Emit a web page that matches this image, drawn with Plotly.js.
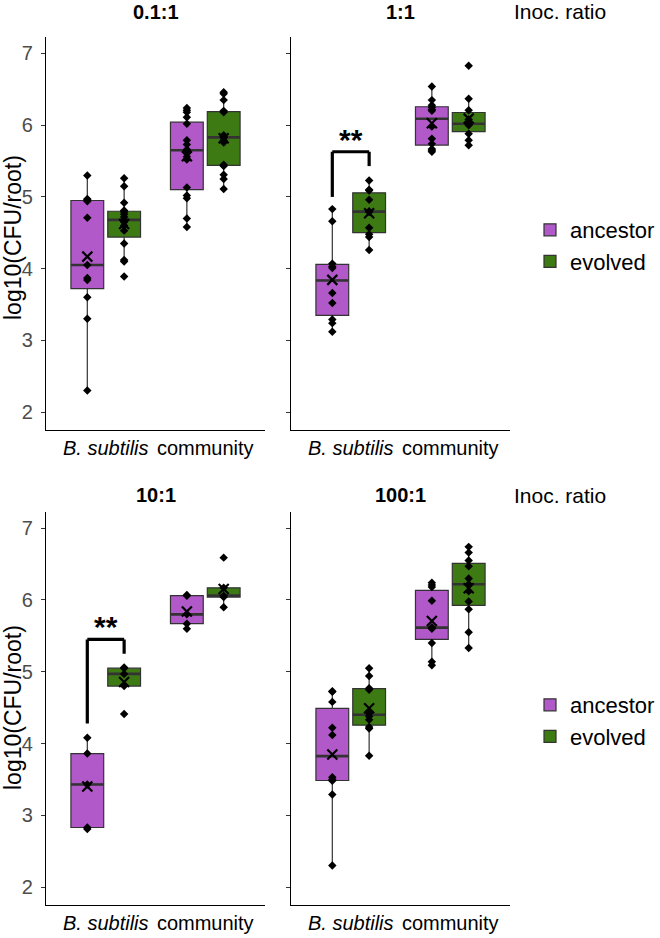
<!DOCTYPE html>
<html>
<head>
<meta charset="utf-8">
<script src="https://cdn.plot.ly/plotly-3.0.1.min.js"></script>
<style>
  html, body { margin: 0; padding: 0; background: #fff; }
  #plot { width: 660px; height: 938px; }
</style>
</head>
<body>
<div id="plot"></div>
<script>
const categories = ['B. subtilis', 'community'];
const tickLabels = ['<i>B. subtilis</i>', 'community'];
const ratios = ['0.1:1', '1:1', '10:1', '100:1'];
const groups = ['ancestor', 'evolved'];
const groupColors = ['#B159C8', '#3E7A14'];

// log10(CFU/root) per inoculation ratio, category and strain
const anc_bs_01 = [5.30, 4.97, 4.96, 4.94, 4.71, 4.05, 3.87, 3.84, 3.60, 3.30, 2.30];
const evo_bs_01 = [5.26, 5.15, 4.92, 4.81, 4.79, 4.76, 4.72, 4.68, 4.65, 4.60, 4.53, 4.35, 4.12, 4.10, 3.89];
const anc_cm_01 = [6.24, 6.21, 6.18, 6.11, 6.02, 5.79, 5.73, 5.66, 5.64, 5.56, 5.52, 5.13, 5.02, 4.98, 4.70, 4.58];
const evo_cm_01 = [6.46, 6.44, 6.35, 6.20, 6.18, 5.86, 5.84, 5.83, 5.79, 5.76, 5.45, 5.43, 5.31, 5.25, 5.11];

const anc_bs_1 = [4.83, 4.66, 4.07, 4.03, 4.01, 3.66, 3.52, 3.29, 3.24, 3.12];
const evo_bs_1 = [5.23, 5.10, 5.09, 4.96, 4.80, 4.79, 4.57, 4.48, 4.44, 4.26];
const anc_cm_1 = [6.54, 6.35, 6.28, 6.25, 6.22, 6.20, 5.98, 5.81, 5.74, 5.67, 5.65, 5.63];
const evo_cm_1 = [6.83, 6.37, 6.21, 6.08, 6.03, 6.01, 6.00, 5.88, 5.79, 5.72];

const anc_bs_10 = [4.08, 3.86, 3.43, 2.83, 2.81];
const evo_bs_10 = [5.06, 5.05, 4.97, 4.80, 4.41];
const anc_cm_10 = [6.07, 6.06, 5.80, 5.67, 5.60];
const evo_cm_10 = [6.59, 6.17, 6.06, 6.04, 5.90];

const anc_bs_100 = [4.73, 4.72, 4.58, 4.22, 4.12, 3.53, 3.50, 3.48, 3.29, 2.30];
const evo_bs_100 = [5.05, 4.94, 4.77, 4.75, 4.42, 4.38, 4.33, 4.23, 4.21, 3.83];
const anc_cm_100 = [6.24, 6.21, 6.18, 5.99, 5.62, 5.61, 5.60, 5.40, 5.14, 5.09];
const evo_cm_100 = [6.74, 6.66, 6.55, 6.47, 6.30, 6.22, 6.12, 5.98, 5.87, 5.55, 5.33];

// significance brackets (B. subtilis, ancestor vs evolved)
const sigPanels = [1, 2];
const sigLabels = ['**', '**'];
const sigTop = [5.63, 5.45];
const sigLeftEnd = [5.00, 4.28];
const sigRightEnd = [5.43, 5.25];

const panelData = [
    [[anc_bs_01, anc_cm_01], [evo_bs_01, evo_cm_01]],
    [[anc_bs_1, anc_cm_1], [evo_bs_1, evo_cm_1]],
    [[anc_bs_10, anc_cm_10], [evo_bs_10, evo_cm_10]],
    [[anc_bs_100, anc_cm_100], [evo_bs_100, evo_cm_100]]
];

const FONT = 'Liberation Sans, Arial, sans-serif';
const BOXGAP = 0.26;
const dodge = (1 - BOXGAP) / 4;

// ggplot-style (type 7) quantiles
function quantile(sorted, p) {
    const h = (sorted.length - 1) * p;
    const lo = Math.floor(h), hi = Math.ceil(h);
    return sorted[lo] + (h - lo) * (sorted[hi] - sorted[lo]);
}

function boxStats(vals) {
    const s = vals.slice().sort((a, b) => a - b);
    const q1 = quantile(s, 0.25), med = quantile(s, 0.5), q3 = quantile(s, 0.75);
    const iqr = q3 - q1;
    const lo = Math.min(...s.filter(v => v >= q1 - 1.5 * iqr));
    const hi = Math.max(...s.filter(v => v <= q3 + 1.5 * iqr));
    const mean = s.reduce((a, b) => a + b, 0) / s.length;
    return { q1, med, q3, lo, hi, mean };
}

const traces = [];
panelData.forEach((panel, p) => {
    const xa = p === 0 ? 'x' : 'x' + (p + 1);
    const ya = p === 0 ? 'y' : 'y' + (p + 1);
    const legendId = p < 2 ? 'legend' : 'legend2';
    panel.forEach((byCat, g) => {
        const st = byCat.map(boxStats);
        const common = { type: 'box', xaxis: xa, yaxis: ya, offsetgroup: groups[g],
            legend: legendId, hoverinfo: 'skip', whiskerwidth: 0 };
        traces.push(Object.assign({}, common, {
            name: groups[g],
            showlegend: p === 0 || p === 2,
            x: categories,
            q1: st.map(s => s.q1), median: st.map(s => s.med), q3: st.map(s => s.q3),
            lowerfence: st.map(s => s.lo), upperfence: st.map(s => s.hi),
            fillcolor: groupColors[g],
            line: { color: '#333333', width: 1.2 },
            boxpoints: false
        }));
        // thicker median line
        traces.push(Object.assign({}, common, {
            name: groups[g] + ' median', showlegend: false,
            x: categories,
            q1: st.map(s => s.med), median: st.map(s => s.med), q3: st.map(s => s.med),
            lowerfence: st.map(s => s.med), upperfence: st.map(s => s.med),
            fillcolor: 'rgba(0,0,0,0)',
            line: { color: '#333333', width: 2.6 },
            boxpoints: false
        }));
        // raw points
        const xs = [], ys = [];
        byCat.forEach((vals, c) => vals.forEach(v => { xs.push(categories[c]); ys.push(v); }));
        traces.push(Object.assign({}, common, {
            name: groups[g] + ' points', showlegend: false,
            x: xs, y: ys,
            boxpoints: 'all', jitter: 0, pointpos: 0,
            fillcolor: 'rgba(0,0,0,0)',
            line: { color: 'rgba(0,0,0,0)', width: 0 },
            marker: { symbol: 'diamond', size: 6.5, color: 'black', line: { width: 0 } }
        }));
        // means
        traces.push(Object.assign({}, common, {
            name: groups[g] + ' mean', showlegend: false,
            x: categories, y: st.map(s => s.mean),
            boxpoints: 'all', jitter: 0, pointpos: 0,
            fillcolor: 'rgba(0,0,0,0)',
            line: { color: 'rgba(0,0,0,0)', width: 0 },
            marker: { symbol: 'x-thin-open', size: 10, color: 'black', line: { width: 2.2, color: 'black' } }
        }));
    });
});

// panel geometry (px in a 660 x 938 page)
const W = 660, H = 938;
const colX = [[46, 265], [291, 510]];
const rowY = [[37, 430], [511.7, 905]];
const dom = (a, b, n) => [a / n, b / n];
const domY = (top, bottom) => [1 - bottom / H, 1 - top / H];

const legendStyle = { x: 530 / W, xanchor: 'left', yanchor: 'middle',
    font: { size: 22, family: FONT }, bgcolor: 'rgba(0,0,0,0)', tracegroupgap: 0 };

const layout = {
    width: W, height: H,
    margin: { l: 0, r: 0, t: 0, b: 0 },
    paper_bgcolor: 'white', plot_bgcolor: 'white',
    font: { family: FONT, color: 'black' },
    boxmode: 'group', boxgap: BOXGAP, boxgroupgap: 0.11,
    annotations: [], shapes: [],
    legend: Object.assign({ y: 1 - 246 / H }, legendStyle),
    legend2: Object.assign({ y: 1 - 721 / H }, legendStyle)
};

ratios.forEach((r, p) => {
    const row = Math.floor(p / 2), col = p % 2;
    const sfx = p === 0 ? '' : String(p + 1);
    layout['xaxis' + sfx] = {
        domain: dom(colX[col][0], colX[col][1], W),
        anchor: 'y' + sfx,
        type: 'category', range: [-0.6, 1.6],
        tickvals: categories, ticktext: tickLabels,
        ticks: '', showline: true, linecolor: 'black', linewidth: 1.1,
        showgrid: false, zeroline: false,
        tickfont: { size: 20, color: 'black', family: FONT }
    };
    layout['yaxis' + sfx] = {
        domain: domY(rowY[row][0], rowY[row][1]),
        anchor: 'x' + sfx,
        range: [1.75, 7.23], tickvals: [2, 3, 4, 5, 6, 7],
        ticks: 'outside', ticklen: 4, tickwidth: 1, tickcolor: '#333333',
        ticklabelstandoff: 4,
        showline: true, linecolor: 'black', linewidth: 1.1,
        showgrid: false, zeroline: false,
        showticklabels: col === 0,
        tickfont: { size: 20, color: '#4d4d4d', family: FONT }
    };
    layout.annotations.push({
        xref: 'paper', yref: 'paper',
        x: (colX[col][0] + colX[col][1]) / 2 / W,
        y: 1 - (row === 0 ? 12 : 495) / H,
        xanchor: 'center', yanchor: 'middle', showarrow: false,
        text: '<b>' + r + '</b>', font: { size: 20, family: FONT, color: 'black' }
    });
});

[12, 495].forEach((py, row) => {
    layout.annotations.push({
        xref: 'paper', yref: 'paper', x: 512 / W, y: 1 - py / H,
        xanchor: 'left', yanchor: 'middle', showarrow: false,
        text: 'Inoc. ratio', font: { size: 21, family: FONT, color: 'black' }
    });
    layout.annotations.push({
        xref: 'paper', yref: 'paper', x: 13 / W, y: 1 - (row === 0 ? 238 : 708) / H,
        xanchor: 'center', yanchor: 'middle', showarrow: false, textangle: -90,
        text: 'log10(CFU/root)', font: { size: 23, family: FONT, color: 'black' }
    });
});

sigPanels.forEach((p, i) => {
    const sfx = p === 0 ? '' : String(p + 1);
    const xl = 0 - dodge, xr = 0 + dodge;
    const ln = { color: 'black', width: 3.2 };
    const base = { type: 'line', xref: 'x' + sfx, yref: 'y' + sfx, line: ln };
    layout.shapes.push(Object.assign({}, base, { x0: xl, x1: xl, y0: sigLeftEnd[i], y1: sigTop[i] }));
    layout.shapes.push(Object.assign({}, base, { x0: xl, x1: xr, y0: sigTop[i], y1: sigTop[i] }));
    layout.shapes.push(Object.assign({}, base, { x0: xr, x1: xr, y0: sigRightEnd[i], y1: sigTop[i] }));
    layout.annotations.push({
        xref: 'x' + sfx, yref: 'y' + sfx, x: 0, y: sigTop[i],
        xanchor: 'center', yanchor: 'bottom', yshift: -6, showarrow: false,
        text: '<b>' + sigLabels[i] + '</b>', font: { size: 30, family: FONT, color: 'black' }
    });
});

Plotly.newPlot('plot', traces, layout, { displayModeBar: false, staticPlot: true });
</script>
</body>
</html>
